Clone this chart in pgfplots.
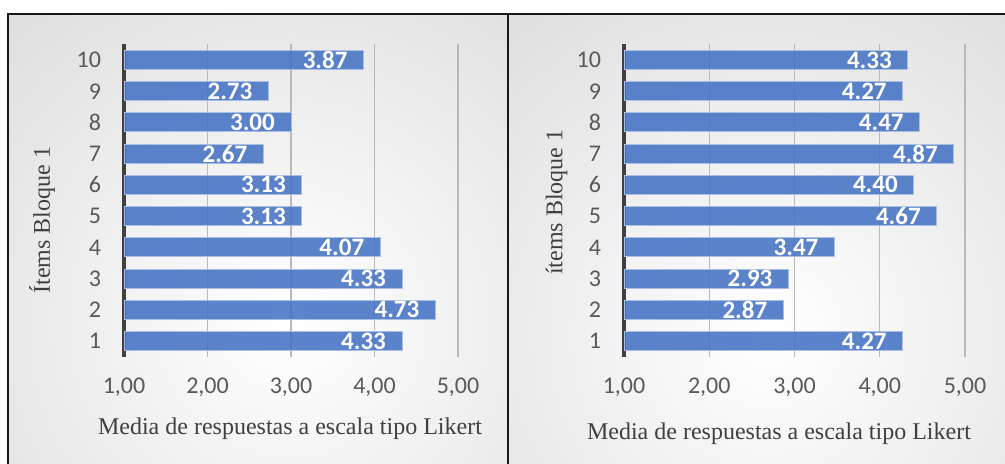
\documentclass[border=0pt]{standalone}
\usepackage{pgfplots}
\pgfplotsset{compat=1.18}
\usepackage{fontspec}
\setmainfont{Liberation Serif}
\newfontfamily\calibri{Carlito}
\definecolor{barblue}{RGB}{68,114,196}
\definecolor{baredge}{RGB}{170,190,228}
\definecolor{ticktext}{RGB}{89,89,89}
\definecolor{labtext}{RGB}{64,64,64}
\definecolor{gridc}{RGB}{185,185,185}
\definecolor{bgout}{RGB}{186,186,186}
\definecolor{axline}{RGB}{64,64,64}

\pgfplotsset{
 panel/.style={
  scale only axis, height=156.1pt,
  xbar, bar width=9.5pt, bar shift=0pt,
  xmin=1, xmax=5, ymin=0.5, ymax=10.5,
  xtick={1,2,3,4,5}, xticklabels={{1,00},{2,00},{3,00},{4,00},{5,00}},
  ytick={1,2,3,4,5,6,7,8,9,10},
  yticklabels={1,2,3,4,5,6,7,8,9,10},
  xmajorgrids, major grid style={gridc, line width=0.6pt},
  axis lines*=left,
  x axis line style={draw=none},
  y axis line style={line width=1.6pt, draw=axline},
  major tick length=0pt,
  tick label style={font=\calibri\fontsize{12}{14}\selectfont, text=ticktext},
  xticklabel style={yshift=-7.2pt},
  yticklabel style={xshift=-8pt},
  label style={font=\fontsize{12}{14}\selectfont, text=labtext},
  point meta=explicit symbolic,
  nodes near coords,
  every node near coord/.append style={anchor=east, xshift=-4.5pt, opacity=1, fill opacity=1, text opacity=1,
     font=\calibri\bfseries\fontsize{12.5}{14}\selectfont, text=white},
 },
 bars/.style={fill=barblue, fill opacity=0.87, draw=baredge, line width=0.5pt},
}

\begin{document}
\begin{tikzpicture}
\useasboundingbox (0,0) rectangle (502.5pt,232pt);
\begin{scope}
\clip (4pt,-5pt) rectangle (254pt,225pt);
\shade[inner color=white, outer color=bgout] (145pt,72pt) circle (440pt);
\end{scope}
\begin{scope}
\clip (254pt,-5pt) rectangle (510pt,225pt);
\shade[inner color=white, outer color=bgout] (385pt,65pt) circle (440pt);
\end{scope}
\draw[line width=0.8pt, black!90] (4pt,-5pt) -- (4pt,225pt) -- (510pt,225pt);
\draw[line width=1pt, black!90] (254pt,-5pt) -- (254pt,225pt);

\begin{axis}[panel, width=167pt, at={(62pt,53.7pt)}, anchor=south west,
  xlabel={Media de respuestas a escala tipo Likert},
  ylabel={Ítems Bloque 1},
  xlabel style={at={(axis description cs:0.497,-0.248)}, anchor=base},
  ylabel style={at={(axis description cs:-0.2455,0.4375)}, anchor=center}]
\addplot[bars] coordinates {
 (4.33,1) [4.33]
 (4.73,2) [4.73]
 (4.33,3) [4.33]
 (4.07,4) [4.07]
 (3.13,5) [3.13]
 (3.13,6) [3.13]
 (2.67,7) [2.67]
 (3.00,8) [3.00]
 (2.73,9) [2.73]
 (3.87,10) [3.87]
};
\end{axis}

\begin{axis}[panel, width=170.5pt, at={(312pt,53.7pt)}, anchor=south west,
  xlabel={Media de respuestas a escala tipo Likert},
  ylabel={ítems Bloque 1},
  xlabel style={at={(axis description cs:0.4545,-0.267)}, anchor=base},
  ylabel style={at={(axis description cs:-0.198,0.495)}, anchor=center}]
\addplot[bars] coordinates {
 (4.27,1) [4.27]
 (2.87,2) [2.87]
 (2.93,3) [2.93]
 (3.47,4) [3.47]
 (4.67,5) [4.67]
 (4.40,6) [4.40]
 (4.87,7) [4.87]
 (4.47,8) [4.47]
 (4.27,9) [4.27]
 (4.33,10) [4.33]
};
\end{axis}
\end{tikzpicture}
\end{document}
